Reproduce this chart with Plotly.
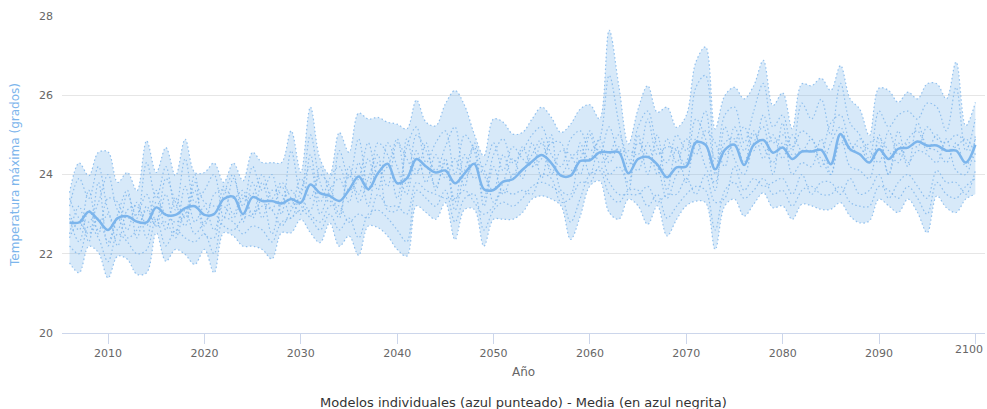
import plotly.graph_objects as go

years = list(range(2006, 2101))

media = [22.79, 22.79, 23.06, 22.85, 22.60, 22.90, 22.95, 22.81, 22.79, 23.17,
         22.98, 22.98, 23.15, 23.20, 22.98, 23.00, 23.38, 23.44, 23.00, 23.43,
         23.33, 23.33, 23.27, 23.38, 23.29, 23.75, 23.53, 23.46, 23.33, 23.61,
         23.95, 23.63, 24.03, 24.27, 23.78, 23.90, 24.39, 24.20, 24.05, 24.10,
         23.78, 24.03, 24.27, 23.63, 23.61, 23.82, 23.88, 24.12, 24.33, 24.49,
         24.29, 23.97, 23.97, 24.34, 24.36, 24.56, 24.56, 24.56, 24.03, 24.39,
         24.44, 24.25, 23.93, 24.18, 24.20, 24.81, 24.75, 24.13, 24.62, 24.75,
         24.24, 24.75, 24.87, 24.55, 24.68, 24.39, 24.58, 24.58, 24.62, 24.26,
         25.02, 24.64, 24.51, 24.30, 24.64, 24.39, 24.65, 24.68, 24.83, 24.73,
         24.73, 24.60, 24.60, 24.30, 24.75]

maximo = [23.54, 24.29, 23.97, 24.56, 24.57, 23.80, 24.05, 23.59, 24.85, 24.05,
          24.68, 23.97, 24.89, 24.05, 24.05, 24.29, 23.80, 24.29, 23.84, 24.56,
          24.30, 24.30, 24.30, 25.10, 24.05, 25.70, 24.39, 24.00, 25.06, 24.56,
          25.55, 25.40, 25.44, 25.32, 25.27, 25.15, 25.88, 25.32, 25.23, 25.78,
          26.12, 25.74, 25.02, 24.47, 25.40, 25.32, 25.02, 25.06, 25.40, 25.70,
          25.44, 25.06, 25.27, 25.65, 25.76, 25.40, 27.64, 26.24, 24.77, 25.65,
          26.24, 25.57, 25.70, 25.19, 25.49, 26.84, 27.22, 25.15, 25.99, 26.20,
          25.91, 26.24, 26.88, 25.74, 26.06, 25.15, 26.29, 26.24, 26.43, 26.12,
          26.75, 25.91, 25.65, 24.98, 26.18, 26.12, 25.82, 26.08, 25.91, 26.29,
          26.29, 25.91, 26.84, 25.23, 25.82]

minimo = [21.77, 21.52, 22.19, 22.03, 21.39, 21.94, 21.86, 21.48, 21.52, 22.53,
          21.81, 22.11, 21.98, 21.73, 22.11, 21.52, 22.53, 22.45, 22.19, 22.19,
          22.11, 21.87, 22.53, 22.53, 22.87, 22.53, 22.28, 22.78, 22.19, 22.45,
          21.96, 22.70, 22.66, 22.45, 22.11, 21.94, 23.21, 23.04, 22.87, 23.29,
          22.36, 23.12, 23.12, 22.19, 22.87, 22.87, 22.87, 23.04, 23.38, 23.46,
          23.38, 23.21, 22.36, 22.95, 23.71, 23.84, 23.04, 22.87, 23.38, 23.21,
          22.74, 23.21, 22.45, 22.87, 23.21, 23.33, 23.29, 22.11, 23.21, 23.38,
          22.95, 23.25, 23.54, 23.16, 23.21, 22.87, 23.25, 23.21, 23.12, 23.12,
          23.29, 22.95, 22.78, 22.83, 23.38, 23.21, 23.04, 23.38, 23.04, 22.53,
          23.46, 23.16, 23.04, 23.38, 23.50]

modelo_a = [23.2, 23.9, 23.4, 24.2, 23.1, 22.6, 23.5, 22.9, 24.3, 23.4,
            24.2, 23.1, 24.4, 23.3, 23.6, 24.0, 22.9, 23.9, 23.2, 24.2,
            23.6, 24.0, 23.0, 24.6, 23.5, 25.0, 23.8, 23.3, 24.6, 23.9,
            24.9, 23.6, 24.8, 24.5, 23.4, 24.7, 25.2, 24.3, 24.8, 25.1,
            24.0, 25.0, 24.6, 23.4, 24.5, 24.9, 24.3, 24.6, 25.0, 25.2,
            24.5, 24.2, 24.9, 25.1, 24.6, 24.9, 26.5, 25.3, 24.2, 25.2,
            25.6, 24.7, 24.3, 25.0, 24.6, 26.2, 26.5, 24.0, 25.5, 25.7,
            24.8, 25.6, 26.3, 25.2, 25.5, 24.6, 25.8, 25.4, 25.9, 25.0,
            26.3, 25.3, 25.0, 24.4, 25.6, 25.2, 25.5, 25.6, 25.4, 25.8,
            25.7, 25.1, 26.2, 24.6, 25.4]

modelo_b = [22.2, 22.0, 22.7, 22.4, 21.8, 22.5, 22.3, 22.0, 22.1, 22.9,
            22.2, 22.6, 22.4, 22.3, 22.5, 22.0, 22.9, 22.8, 22.5, 22.7,
            22.6, 22.3, 22.8, 22.9, 23.1, 22.9, 22.6, 23.0, 22.6, 22.9,
            22.4, 23.0, 23.1, 22.9, 22.6, 22.3, 23.6, 23.4, 23.2, 23.6,
            22.8, 23.4, 23.5, 22.6, 23.1, 23.3, 23.2, 23.4, 23.7, 23.8,
            23.7, 23.5, 22.8, 23.4, 24.0, 24.1, 23.5, 23.3, 23.6, 23.6,
            23.2, 23.5, 22.9, 23.2, 23.5, 23.7, 23.6, 22.6, 23.6, 23.8,
            23.4, 23.6, 23.9, 23.5, 23.6, 23.2, 23.6, 23.7, 23.5, 23.5,
            23.7, 23.3, 23.2, 23.2, 23.7, 23.6, 23.4, 23.7, 23.4, 23.0,
            23.8, 23.5, 23.4, 23.7, 23.9]

modelo_c = [23.0, 22.6, 23.6, 22.5, 23.4, 23.3, 22.6, 23.3, 22.7, 23.6,
            22.6, 23.4, 22.9, 23.6, 22.7, 23.5, 23.6, 23.0, 23.5, 23.0,
            23.8, 23.1, 23.7, 23.2, 23.9, 23.4, 24.0, 23.7, 23.0, 24.0,
            23.5, 24.4, 23.6, 24.8, 24.2, 23.5, 24.6, 23.8, 24.5, 23.9,
            24.4, 23.7, 24.8, 24.0, 23.6, 24.5, 23.9, 24.7, 24.2, 24.8,
            24.0, 24.6, 24.5, 24.0, 25.0, 24.3, 24.5, 25.0, 24.4, 24.1,
            24.8, 24.0, 24.9, 24.3, 24.9, 24.5, 25.1, 24.8, 24.2, 25.2,
            24.6, 25.1, 24.4, 25.0, 24.4, 25.0, 24.6, 24.9, 24.2, 24.8,
            25.2, 24.6, 24.9, 24.6, 24.3, 25.1, 24.5, 24.9, 25.1, 24.6,
            25.0, 24.6, 24.7, 24.9, 24.5]

modelo_d = [22.5, 23.2, 22.3, 23.8, 22.2, 23.0, 23.6, 22.4, 23.2, 22.7,
            23.5, 22.5, 23.7, 22.8, 23.2, 22.6, 23.5, 24.0, 22.8, 23.8,
            22.9, 23.6, 23.5, 22.9, 23.6, 24.2, 23.0, 23.6, 23.9, 23.3,
            24.3, 23.2, 24.3, 23.7, 24.8, 24.4, 24.0, 24.8, 23.6, 24.4,
            23.3, 24.5, 23.9, 24.1, 23.3, 23.8, 24.4, 23.9, 24.8, 23.9,
            25.0, 23.6, 23.5, 24.8, 24.0, 24.7, 24.0, 24.2, 23.8, 25.0,
            24.0, 25.0, 23.6, 24.7, 23.8, 24.9, 24.2, 23.8, 25.2, 24.4,
            24.0, 24.8, 25.2, 24.0, 25.3, 24.0, 24.3, 24.2, 24.9, 24.0,
            25.0, 24.2, 24.1, 23.9, 25.0, 24.0, 25.1, 24.3, 24.6, 24.5,
            24.3, 24.9, 24.1, 24.0, 25.0]

modelo_e = [22.9, 22.3, 23.1, 22.6, 23.0, 22.2, 23.1, 23.2, 22.4, 23.3,
            23.0, 22.8, 23.0, 24.0, 22.5, 22.4, 23.7, 23.4, 23.6, 22.9,
            23.4, 22.5, 23.3, 23.6, 23.2, 23.1, 24.2, 23.5, 22.9, 24.2,
            23.3, 23.9, 24.5, 23.1, 23.1, 24.9, 24.1, 24.2, 23.7, 24.3,
            23.1, 24.1, 24.7, 23.2, 24.2, 23.5, 24.0, 24.1, 24.5, 24.9,
            24.1, 24.0, 24.4, 24.6, 24.4, 24.9, 24.3, 24.7, 23.6, 24.8,
            24.5, 24.2, 23.4, 24.0, 24.3, 25.4, 24.9, 23.6, 24.8, 24.9,
            24.3, 25.0, 24.7, 24.3, 24.8, 24.5, 24.6, 24.6, 24.4, 24.0,
            24.8, 24.7, 24.7, 24.3, 24.8, 24.0, 24.8, 24.2, 25.3, 24.7,
            24.6, 24.3, 24.8, 24.2, 24.9]

modelo_f = [23.4, 22.9, 22.8, 23.3, 24.0, 23.1, 22.9, 23.0, 23.5, 22.8,
            23.9, 23.3, 22.7, 23.8, 23.3, 23.2, 23.2, 22.9, 23.4, 23.5,
            24.0, 23.4, 23.8, 23.4, 23.0, 24.5, 23.3, 23.9, 24.2, 23.6,
            23.9, 24.8, 24.0, 24.2, 24.9, 23.7, 25.0, 24.6, 24.1, 24.7,
            25.2, 23.9, 24.3, 24.2, 24.8, 24.1, 24.7, 24.4, 24.2, 24.4,
            24.8, 24.8, 24.1, 24.4, 25.1, 24.5, 25.2, 24.6, 24.6, 24.5,
            25.4, 24.5, 24.7, 24.6, 24.2, 24.8, 25.6, 24.4, 24.5, 24.8,
            25.2, 24.6, 25.5, 24.8, 25.0, 24.7, 25.1, 24.9, 24.6, 25.3,
            25.5, 24.8, 24.5, 24.8, 24.9, 24.6, 24.3, 24.8, 24.7, 25.2,
            24.9, 24.8, 25.0, 24.8, 24.3]

modelo_g = [22.4, 22.8, 22.5, 22.9, 22.3, 22.9, 22.4, 22.6, 23.1, 22.7,
            22.8, 22.4, 23.1, 22.5, 22.8, 23.0, 22.7, 22.6, 22.9, 23.0,
            23.2, 23.1, 22.7, 23.1, 23.4, 23.0, 22.8, 23.2, 23.2, 22.8,
            23.0, 22.9, 23.5, 23.2, 23.2, 23.0, 23.8, 23.6, 23.5, 23.4,
            23.4, 23.6, 23.3, 23.0, 23.2, 23.6, 23.5, 23.6, 23.5, 24.0,
            23.9, 23.3, 23.4, 23.8, 23.8, 24.2, 23.8, 23.5, 23.5, 23.5,
            23.7, 23.3, 23.5, 23.5, 23.9, 23.5, 24.0, 23.3, 23.4, 24.2,
            23.6, 23.9, 23.7, 23.8, 23.9, 23.5, 24.0, 23.5, 23.8, 23.8,
            23.5, 23.9, 23.5, 23.6, 24.0, 23.4, 23.8, 24.0, 23.7, 23.4,
            24.1, 23.8, 23.8, 23.5, 24.1]

ticks_anio = [2010, 2020, 2030, 2040, 2050, 2060, 2070, 2080, 2090, 2100]
# la etiqueta de 2100 se pone aparte para que no se corte en el borde
textos_anio = [str(a) for a in ticks_anio[:-1]] + ['']

azul = '#7cb5ec'
fuente = 'DejaVu Sans'

fig = go.Figure()

# rango entre modelos
fig.add_trace(go.Scatter(x=years, y=minimo, mode='lines',
                         line=dict(width=0, shape='spline', smoothing=1),
                         hoverinfo='skip', showlegend=False))
fig.add_trace(go.Scatter(x=years, y=maximo, mode='lines', fill='tonexty',
                         fillcolor='rgba(124,181,236,0.3)',
                         line=dict(width=0, shape='spline', smoothing=1),
                         hoverinfo='skip', showlegend=False))

# modelos individuales punteados
modelos = [maximo, minimo, modelo_a, modelo_b, modelo_c, modelo_d,
           modelo_e, modelo_f, modelo_g]
for serie in modelos:
    fig.add_trace(go.Scatter(x=years, y=serie, mode='lines',
                             line=dict(color=azul, width=1.2, dash='1.5px,2.5px',
                                       shape='spline', smoothing=1),
                             opacity=0.8, showlegend=False))

# media
fig.add_trace(go.Scatter(x=years, y=media, mode='lines',
                         line=dict(color=azul, width=2.5, shape='spline', smoothing=1),
                         showlegend=False))

fig.update_layout(
    width=987, height=409,
    margin=dict(l=62, r=2, t=16, b=76, autoexpand=False),
    paper_bgcolor='white', plot_bgcolor='white',
    font=dict(family=fuente, size=11, color='#666666'),
    annotations=[
        dict(text='Modelos individuales (azul punteado) - Media (en azul negrita)',
             x=0.5, y=-0.218, xref='paper', yref='paper',
             xanchor='center', yanchor='middle', showarrow=False,
             font=dict(family=fuente, size=13, color='#333333')),
        dict(text=str(ticks_anio[-1]), x=ticks_anio[-1], y=0, xref='x', yref='paper',
             xanchor='right', yanchor='middle', xshift=10, yshift=-16,
             showarrow=False, font=dict(family=fuente, size=11, color='#666666')),
    ],
)

fig.update_xaxes(range=[2005.22, 2101.0], tickvals=ticks_anio, ticktext=textos_anio,
                 automargin=False,
                 showgrid=False, zeroline=False,
                 showline=True, linecolor='#ccd6eb', linewidth=1,
                 ticks='outside', ticklen=10, tickcolor='#ccd6eb',
                 tickfont=dict(size=11, color='#666666'),
                 title=dict(text='Año', font=dict(size=12, color='#666666'), standoff=8))

fig.update_yaxes(range=[20, 28], dtick=2, tick0=20,
                 automargin=False,
                 showgrid=True, gridcolor='#e6e6e6', gridwidth=1,
                 zeroline=False, showline=False, ticks='',
                 ticklabelstandoff=8,
                 tickfont=dict(size=11, color='#666666'),
                 title=dict(text='Temperatura máxima (grados)',
                            font=dict(size=12, color=azul), standoff=16))

fig.write_html('out.html', config={'displayModeBar': False},
               post_script="document.body.style.margin='0px';")
